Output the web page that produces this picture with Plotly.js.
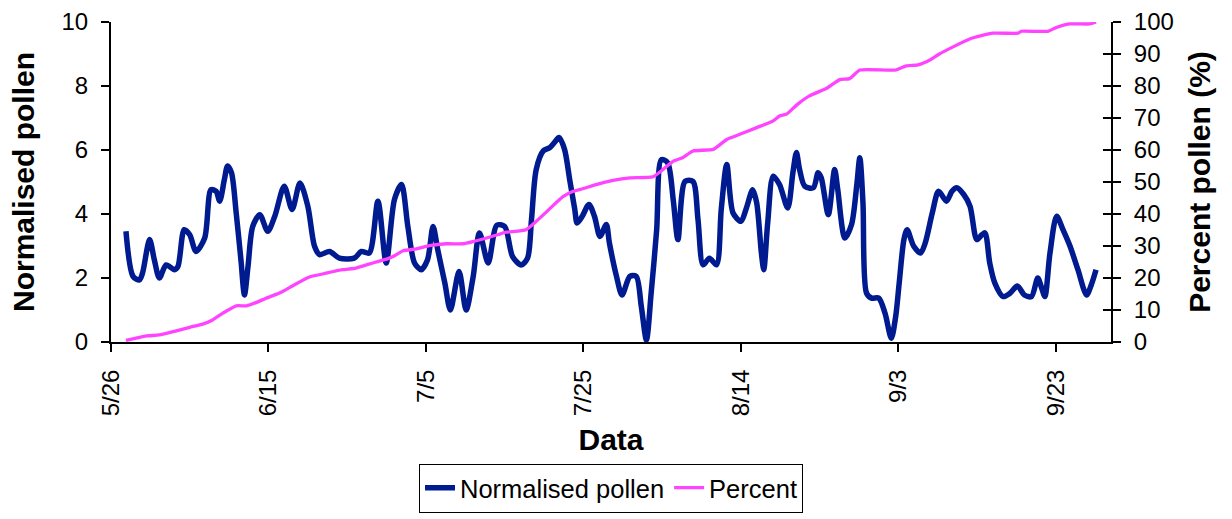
<!DOCTYPE html>
<html>
<head>
<meta charset="utf-8">
<script src="https://cdn.plot.ly/plotly-3.0.1.min.js"></script>
<style>
html,body{margin:0;padding:0;background:#fff;}
#chart{width:1232px;height:519px;}
</style>
</head>
<body>
<div id="chart"></div>
<script>
// x values are days since 5/26
var tickDays = [0, 20, 40, 60, 80, 100, 120];
var tickLabels = ['5/26', '6/15', '7/5', '7/25', '8/14', '9/3', '9/23'];

var pollenDays = [1.9,2.8,3.6,4.0,4.9,5.5,6.15,7.0,8.05,8.5,9.3,10.0,10.8,11.9,12.7,13.35,13.8,14.4,14.8,15.3,15.9,16.5,16.95,17.4,18.0,18.9,19.9,20.8,22.0,23.0,24.0,
  25.0,25.85,26.5,27.75,29.0,30.9,31.8,32.8,33.9,34.95,36.0,36.9,37.7,38.55,39.4,40.2,40.9,41.5,42.4,43.1,44.2,45.1,46.0,46.8,47.9,49.0,
  50.0,51.0,52.1,52.9,53.4,54.0,54.9,55.7,56.3,56.9,57.6,58.25,58.9,59.2,59.85,60.7,61.4,62.1,62.9,63.3,64.2,64.9,65.9,66.7,67.35,68.0,68.6,69.3,69.9,70.7,71.4,72.0,
  72.9,73.9,74.55,75.2,76.0,76.9,77.5,78.2,79.0,80.0,80.7,81.5,82.0,82.6,82.9,83.4,84.1,84.9,85.95,86.6,87.05,87.45,88.1,89.2,89.8,90.2,91.1,91.9,92.3,93.2,94.05,94.7,95.1,95.5,95.95,96.6,
  97.5,98.3,99.1,99.65,100.1,100.7,101.1,101.95,102.8,103.4,104.3,105.1,106.1,106.8,107.4,108.3,109.1,109.95,110.6,111.0,111.6,112.25,113.3,114.2,115.1,116.0,116.9,117.7,118.2,118.6,119.25,120.1,120.9,121.8,122.8,123.9,124.5,125.1];
var pollenValues = [3.46,2.05,1.94,2.15,3.2,2.57,2.0,2.41,2.26,2.36,3.51,3.35,2.83,3.25,4.76,4.71,4.4,5.08,5.5,5.29,4.03,2.57,1.47,2.36,3.61,3.98,3.46,3.93,4.87,4.14,4.97,
  4.24,2.99,2.73,2.83,2.62,2.62,2.83,2.78,4.4,2.47,4.45,4.92,3.61,2.47,2.26,2.57,3.61,2.88,1.84,1.0,2.2,1.0,2.05,3.41,2.47,3.65,
  3.61,2.67,2.41,2.62,3.82,5.39,5.97,6.07,6.23,6.39,6.02,5.08,4.14,3.72,3.93,4.3,3.93,3.3,3.67,3.09,2.05,1.47,2.05,2.05,1.11,0.06,1.53,3.51,5.7,5.6,4.45,3.2,
  5.02,5.02,3.82,2.41,2.62,2.41,4.14,5.55,4.03,3.77,4.19,4.76,4.35,2.78,2.26,3.72,5.18,4.92,4.19,5.29,5.92,5.39,4.87,4.82,5.29,5.13,3.98,5.39,4.76,3.25,3.67,4.87,5.76,4.35,1.53,1.37,
  1.37,0.9,0.12,0.79,1.84,3.2,3.51,2.99,2.78,3.09,4.03,4.71,4.4,4.71,4.82,4.61,4.24,3.2,3.35,3.41,2.47,1.84,1.42,1.53,1.75,1.47,1.42,2.0,1.68,1.42,2.78,3.93,3.51,2.99,2.26,1.47,1.79,2.26];

var percentDays = [1.9,3.2,4.5,6.15,8.3,10.0,11.65,12.9,14.2,15.9,17.2,18.4,19.7,21.4,23.1,25.2,27.3,29.4,31.1,33.25,35.0,35.8,37.1,38.8,40.45,42.6,44.7,46.0,47.7,49.2,
  50.2,52.7,54.0,55.7,57.4,58.7,59.9,61.6,63.75,65.9,68.8,70.1,71.4,72.6,73.9,76.5,78.2,79.85,82.0,84.1,84.9,85.8,87.1,88.7,90.9,92.55,93.8,95.1,99.7,101.0,102.5,104.0,105.2,109.05,112.0,115.2,115.6,119.0,120.05,121.7,124.3,125.1];
var percentValues = [0.5,1.2,1.9,2.2,3.5,4.6,5.6,6.9,9.0,11.3,11.3,12.3,13.7,15.3,17.6,20.3,21.5,22.6,23.1,24.7,25.9,26.7,28.5,29.1,30.1,30.7,30.7,31.4,32.5,33.6,
  34.3,35.1,37.7,41.6,45.4,47.1,47.9,49.2,50.5,51.3,51.6,53.9,56.5,57.6,59.7,60.2,63.3,64.9,67.0,69.1,70.6,71.2,74.1,76.9,79.3,82.0,82.3,85.0,85.0,86.3,86.6,88.1,90.0,94.7,96.5,96.5,97.1,97.1,98.3,99.4,99.4,100];

var FONT = 'Liberation Sans, Arial, Helvetica, sans-serif';

var traces = [
  {x: pollenDays, y: pollenValues, type: 'scatter', mode: 'lines', name: 'Normalised pollen',
   line: {color: '#001A8F', width: 5.5, shape: 'spline', smoothing: 0.8}, xaxis: 'x', yaxis: 'y'},
  {x: percentDays, y: percentValues, type: 'scatter', mode: 'lines', name: 'Percent',
   line: {color: '#FF44FF', width: 3.3, shape: 'spline', smoothing: 0.5}, xaxis: 'x', yaxis: 'y2'}
];

var layout = {
  width: 1232, height: 519,
  margin: {l: 111, r: 121, t: 22, b: 177, pad: 0, autoexpand: false},
  paper_bgcolor: '#ffffff', plot_bgcolor: '#ffffff',
  font: {family: FONT, color: '#000000'},
  showlegend: true,
  legend: {orientation: 'h', x: 0.5, xanchor: 'center', y: -0.38, yanchor: 'top',
           bordercolor: '#000000', borderwidth: 1, font: {size: 25.5, family: FONT, color: '#000'},
           tracegroupgap: 0},
  xaxis: {range: [0, 127], tickmode: 'array', tickvals: tickDays, ticktext: tickLabels,
          tickangle: -90, ticks: 'outside', ticklen: 8, tickwidth: 2, tickcolor: '#000',
          showline: true, linecolor: '#000', linewidth: 2, showgrid: false, zeroline: false, automargin: false,
          tickfont: {size: 24, family: FONT, color: '#000'}, ticklabelstandoff: 8,
          title: {text: 'Data', font: {size: 30, family: FONT, weight: 700, color: '#000'}, standoff: 14}},
  yaxis: {range: [0, 10], dtick: 2, tick0: 0, ticks: 'outside', ticklen: 8, tickwidth: 2, tickcolor: '#000',
          showline: true, linecolor: '#000', linewidth: 2, showgrid: false, zeroline: false, automargin: false,
          tickfont: {size: 24, family: FONT, color: '#000'}, ticklabelstandoff: 8,
          title: {text: 'Normalised pollen', font: {size: 30, family: FONT, weight: 700, color: '#000'}, standoff: 18}},
  yaxis2: {range: [0, 100], dtick: 10, tick0: 0, overlaying: 'y', side: 'right', anchor: 'x',
          ticks: 'outside', ticklen: 8, tickwidth: 2, tickcolor: '#000', automargin: false,
          showline: true, linecolor: '#000', linewidth: 2, showgrid: false, zeroline: false,
          tickfont: {size: 24, family: FONT, color: '#000'}, ticklabelstandoff: 8,
          title: {text: 'Percent pollen (%)', font: {size: 30, family: FONT, weight: 700, color: '#000'}, standoff: 16}},
  yaxis3: {range: [0, 100], dtick: 10, tick0: 0, overlaying: 'y', side: 'right', anchor: 'x',
          ticks: 'inside', ticklen: 8, tickwidth: 2, tickcolor: '#000', automargin: false,
          showline: false, showgrid: false, zeroline: false, showticklabels: false}
};

// invisible helper trace so yaxis3 (inside tick marks of right axis) is drawn
traces.push({x: [0], y: [0], xaxis: 'x', yaxis: 'y3', type: 'scatter', mode: 'markers',
             marker: {opacity: 0}, showlegend: false, hoverinfo: 'skip'});

Plotly.newPlot('chart', traces, layout, {displayModeBar: false, staticPlot: true});
</script>
</body>
</html>
